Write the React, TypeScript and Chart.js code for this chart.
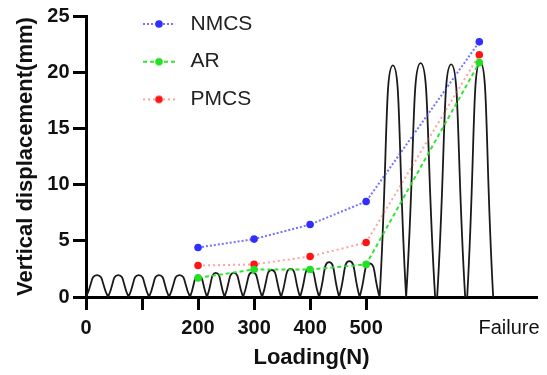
import React, { useEffect, useRef } from 'react';
import { Chart, registerables } from 'chart.js';

Chart.register(...registerables);

// ---- data ----
const LOADS = [200, 300, 400, 500, 702]; // last point sits at the "Failure" position
const NMCS = [4.4, 5.15, 6.45, 8.5, 22.7];
const AR = [1.7, 2.45, 2.45, 2.9, 20.85];
const PMCS = [2.8, 2.9, 3.6, 4.85, 21.55];

const X_TICKS = [0, 100, 200, 300, 400, 500, 755];
const X_TICK_LABELS = ['0', '', '200', '300', '400', '500', 'Failure'];
const FAILURE_TICK = 755;

// schematic loading curve: hump start, end and peak height
const HUMP_STARTS = [0, 39.3, 75.9, 112.5, 148.2, 185.7, 216, 247.3, 280.4, 314.3, 348.2, 382.1, 416.1, 451.8, 488.4, 524.1, 571.4, 626.8, 680.4];
const HUMP_ENDS = [39.3, 75.9, 112.5, 148.2, 185.7, 216, 247.3, 280.4, 314.3, 348.2, 382.1, 416.1, 451.8, 488.4, 524.1, 571.4, 623.2, 676.8, 726.8];
const HUMP_HEIGHTS = [1.95, 1.95, 1.95, 1.95, 1.95, 1.9, 2.15, 2.15, 2.2, 2.4, 2.5, 2.55, 3.1, 3.2, 3.0, 20.6, 20.8, 20.7, 20.9];

const FONT = "'Liberation Sans', Arial, sans-serif";

const SERIES = [
  { label: 'NMCS', values: NMCS, point: '#2f2fff', line: 'rgba(70,70,255,0.75)', dash: [2, 2] },
  { label: 'AR', values: AR, point: '#22e022', line: 'rgba(40,225,40,0.95)', dash: [4, 3] },
  { label: 'PMCS', values: PMCS, point: '#ff1515', line: 'rgba(255,70,70,0.5)', dash: [2, 3] },
];

function makeMarker(pointColor: string, lineColor: string, dash: number[]) {
  const c = document.createElement('canvas');
  c.width = 32;
  c.height = 10;
  const g = c.getContext('2d')!;
  g.strokeStyle = lineColor;
  g.lineWidth = 2;
  g.setLineDash(dash);
  g.beginPath();
  g.moveTo(0, 5);
  g.lineTo(32, 5);
  g.stroke();
  g.setLineDash([]);
  g.fillStyle = pointColor;
  g.beginPath();
  g.arc(16, 5, 3.8, 0, Math.PI * 2);
  g.fill();
  return c;
}

export default function App() {
  const ref = useRef<HTMLCanvasElement | null>(null);

  useEffect(() => {
    document.body.style.margin = '0';
    const canvas = ref.current;
    if (!canvas) return;

    const curve: { x: number; y: number | null }[] = [];
    HUMP_STARTS.forEach((s, i) => {
      const e = HUMP_ENDS[i];
      curve.push({ x: s, y: 0 });
      curve.push({ x: (s + e) / 2, y: HUMP_HEIGHTS[i] });
      curve.push({ x: e, y: 0 });
      curve.push({ x: e, y: null });
    });

    const markers = SERIES.map((s) => makeMarker(s.point, s.line, s.dash));

    const LEG_PAD = 16.7;
    const legendShift = {
      id: 'legendShift',
      afterLayout(chart: any) {
        if (chart.legend) {
          chart.legend.left = 138 - LEG_PAD;
          chart.legend.top = 13.5 - LEG_PAD;
        }
      },
    };

    const chart = new Chart(canvas, {
      type: 'line',
      data: {
        datasets: [
          ...SERIES.map((s, i) => ({
            label: s.label,
            data: LOADS.map((x, j) => ({ x, y: s.values[j] })),
            borderColor: s.line,
            borderDash: s.dash,
            borderWidth: 2,
            backgroundColor: s.point,
            pointBackgroundColor: s.point,
            pointBorderWidth: 0,
            pointRadius: 3.8,
            tension: 0,
            fill: false,
            order: i,
          })),
          {
            label: 'curve',
            data: curve,
            borderColor: '#1a1a1a',
            borderWidth: 1.8,
            pointRadius: 0,
            tension: 0.6,
            spanGaps: false,
            fill: false,
            order: 10,
          },
        ],
      },
      options: {
        responsive: false,
        animation: false,
        layout: { padding: { left: 0, right: 10, top: 16, bottom: 0 } },
        plugins: {
          tooltip: { enabled: false },
          legend: {
            position: 'chartArea',
            align: 'start',
            labels: {
              usePointStyle: true,
              pointStyleWidth: 42,
              padding: LEG_PAD,
              color: '#222',
              font: { family: FONT, size: 21, weight: 'normal' },
              generateLabels: () =>
                SERIES.map((s, i) => ({
                  text: s.label,
                  pointStyle: markers[i],
                  fillStyle: s.point,
                  strokeStyle: s.point,
                  lineWidth: 0,
                  hidden: false,
                  datasetIndex: i,
                  fontColor: '#222',
                })),
            },
          },
        },
        scales: {
          x: {
            type: 'linear',
            min: 0,
            max: 805,
            afterBuildTicks: (scale: any) => {
              scale.ticks = X_TICKS.map((v) => ({ value: v }));
            },
            afterFit: (scale: any) => {
              scale.height = 78;
            },
            grid: {
              drawOnChartArea: false,
              drawTicks: true,
              tickLength: 13,
              tickWidth: 3,
              tickColor: (ctx: any) =>
                ctx.tick && ctx.tick.value === FAILURE_TICK ? 'rgba(0,0,0,0)' : '#000',
            },
            border: { display: true, color: '#000', width: 3 },
            ticks: {
              autoSkip: false,
              maxRotation: 0,
              padding: 6,
              color: '#111',
              font: (ctx: any) =>
                ctx.tick && ctx.tick.value === FAILURE_TICK
                  ? { family: FONT, size: 20, weight: 'normal' }
                  : { family: FONT, size: 20, weight: 'bold' },
              callback: (v: any) => X_TICK_LABELS[X_TICKS.indexOf(Number(v))] ?? '',
            },
            title: {
              display: true,
              text: 'Loading(N)',
              color: '#111',
              font: { family: FONT, size: 22, weight: 'bold' },
              padding: { top: 0, bottom: 4 },
            },
          },
          y: {
            type: 'linear',
            min: 0,
            max: 25,
            afterFit: (scale: any) => {
              scale.width = 86;
            },
            grid: {
              drawOnChartArea: false,
              drawTicks: true,
              tickLength: 13,
              tickWidth: 3,
              tickColor: '#000',
            },
            border: { display: true, color: '#000', width: 3 },
            ticks: {
              stepSize: 5,
              padding: 3.5,
              color: '#111',
              font: { family: FONT, size: 20, weight: 'bold' },
            },
            title: {
              display: true,
              text: 'Vertical displacement(mm)',
              color: '#111',
              font: { family: FONT, size: 22, weight: 'bold' },
              padding: { top: 13, bottom: 0 },
            },
          },
        },
      },
      plugins: [legendShift],
    } as any);

    return () => {
      chart.destroy();
    };
  }, []);

  return <canvas ref={ref} width={547} height={375} style={{ display: 'block' }} />;
}
